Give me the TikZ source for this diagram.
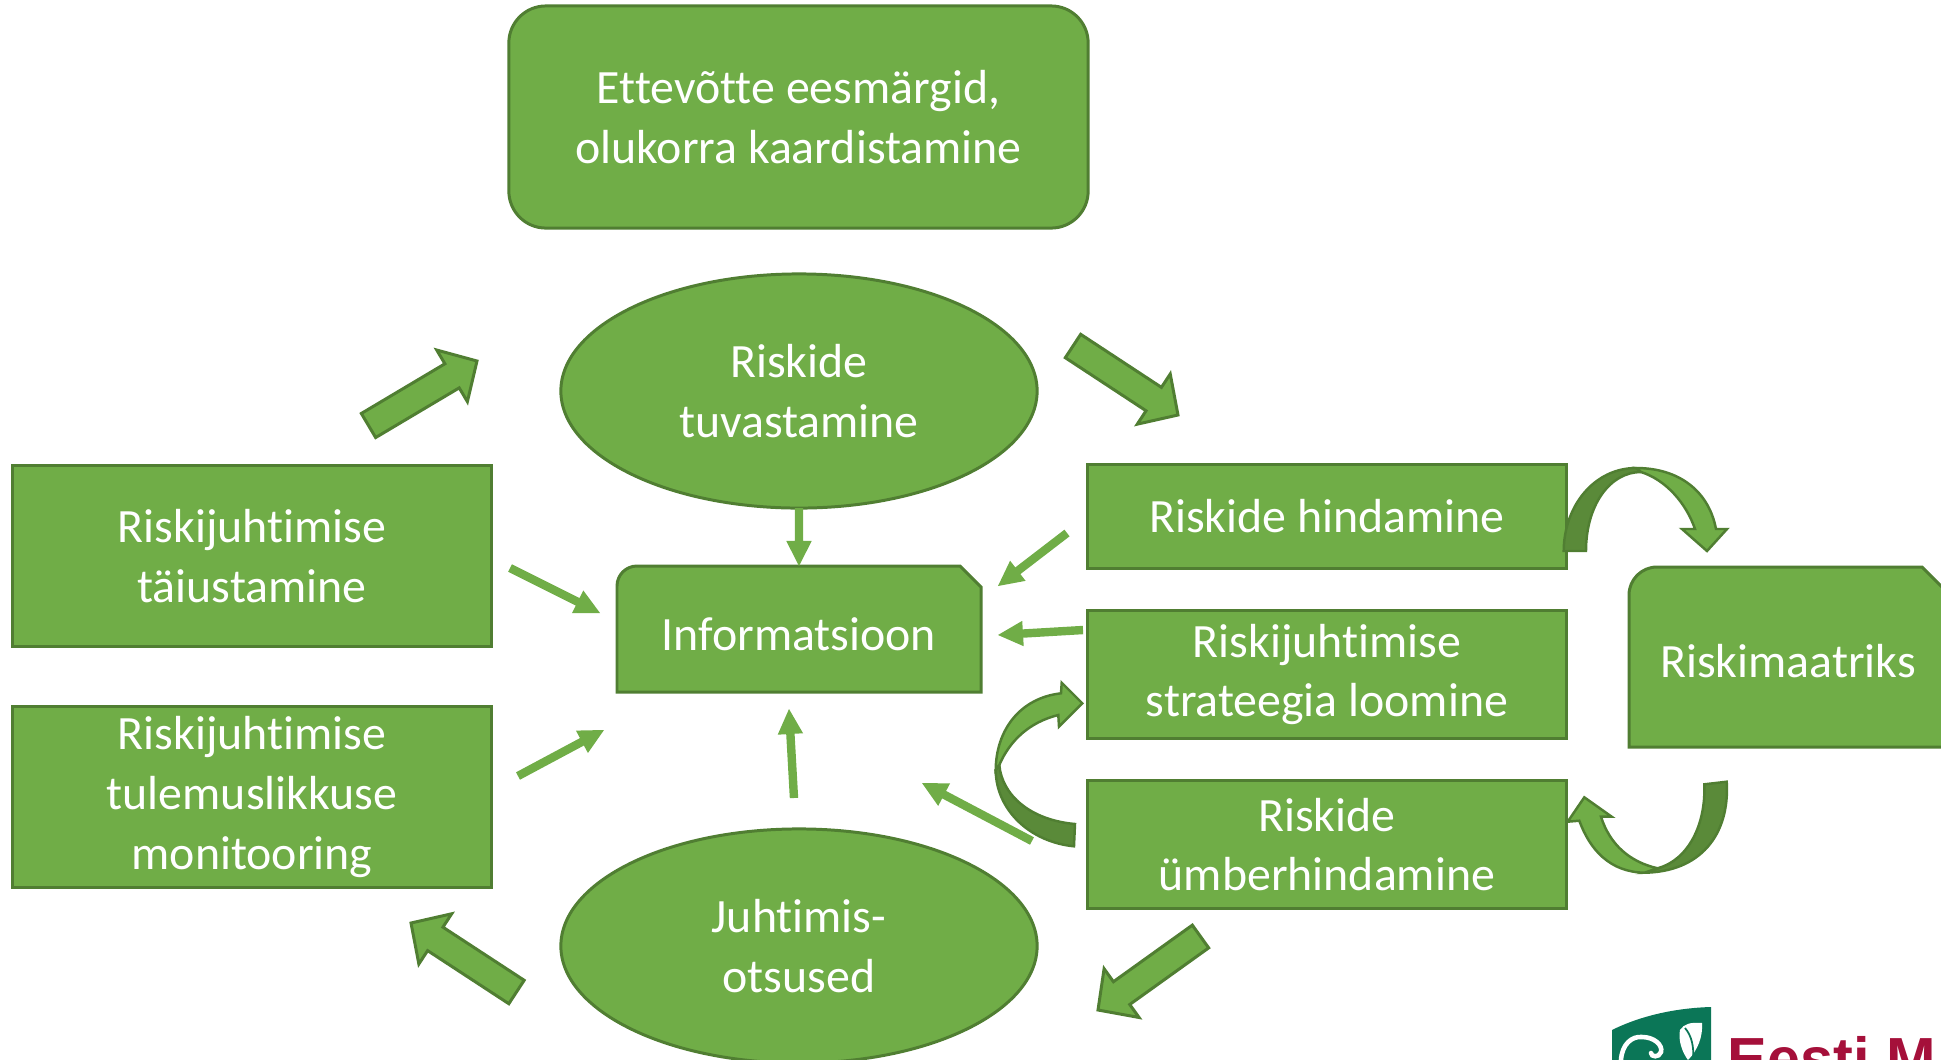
\documentclass[tikz,border=0pt]{standalone}
\usepackage{fontspec}
\setmainfont{Carlito}[Ligatures=CommonOff]
\usetikzlibrary{calc,shapes.geometric}

\definecolor{boxgreen}{HTML}{70AD47}
\definecolor{edgegreen}{HTML}{507E32}
\definecolor{foldgreen}{HTML}{5A8A39}
\definecolor{logogreen}{HTML}{0B7657}
\definecolor{logored}{HTML}{A5103A}

\tikzset{
  shapeline/.style={draw=edgegreen, line width=0.85pt, fill=boxgreen},
  boxtext/.style={text=white, align=center, inner sep=0pt, font=\fontsize{13.6}{17}\selectfont},
  procbox/.style={shapeline, boxtext, rectangle, minimum width=4.78cm},
  ovalbox/.style={shapeline, boxtext, ellipse, minimum width=4.76cm, minimum height=2.34cm},
  fatarrow/.style={shapeline, line join=miter},
  slimarrow/.style={fill=boxgreen},
  foldband/.style={draw=edgegreen, line width=0.7pt, fill=foldgreen},
  topband/.style={draw=edgegreen, line width=0.7pt, fill=boxgreen, line join=miter}
}

% tail, tip, half shaft, half head, head length, style
\newcommand{\flowarrow}[6]{
  \coordinate (neck) at ($(#2)!#5!(#1)$);
  \path[#6] ($(#1)!#3!90:(#2)$) -- ($(neck)!#3!90:(#2)$) -- ($(neck)!#4!90:(#2)$) -- (#2)
    -- ($(neck)!#4!-90:(#2)$) -- ($(neck)!#3!-90:(#2)$) -- ($(#1)!#3!-90:(#2)$) -- cycle;
}
\newcommand{\fatflow}[2]{\flowarrow{#1}{#2}{0.14cm}{0.30cm}{0.29cm}{fatarrow}}
\newcommand{\slimflow}[2]{\flowarrow{#1}{#2}{0.042cm}{0.127cm}{0.25cm}{slimarrow}}

\begin{document}
\begin{tikzpicture}[x=0.01cm,y=-0.01cm]
  \clip (0,0) rectangle (1941,1060);

  % Boxes
  \node[procbox, rounded corners=0.37cm, minimum width=5.79cm, minimum height=2.22cm] (goals) at (798.5,117) {Ettevõtte eesmärgid,\\olukorra kaardistamine};
  \node[ovalbox] (identify) at (799,391) {Riskide\\tuvastamine};
  \node[ovalbox] (decide) at (799,946) {Juhtimis-\\otsused};
  \node[procbox, minimum height=1.81cm] (improve) at (252,556) {Riskijuhtimise\\täiustamine};
  \node[procbox, minimum height=1.81cm] (monitor) at (252,797) {Riskijuhtimise\\tulemuslikkuse\\monitooring};
  \node[procbox, minimum height=1.03cm] (assess) at (1327,516.5) {Riskide hindamine};
  \node[procbox, minimum height=1.27cm] (strategy) at (1327,674.5) {Riskijuhtimise\\strateegia loomine};
  \node[procbox, minimum height=1.27cm] (reassess) at (1327,844.5) {Riskide\\ümberhindamine};

  % Snipped boxes
  \draw[shapeline] (617,692) -- (617,586) arc (180:270:20) -- (960,566) -- (981,587) -- (981,692) -- cycle;
  \node[boxtext] (info) at (799,634) {Informatsioon};
  \draw[shapeline] (1629,747) -- (1629,595) arc (180:270:28) -- (1922,567) -- (1952,597) -- (1952,747) -- cycle;
  \node[boxtext] (matrix) at (1788,661) {Riskimaatriks};

  % Big arrows around the loop
  \coordinate (improveout) at (368.5,425.5);
  \coordinate (identifyin) at (477,361);
  \coordinate (identifyout) at (1073,346);
  \coordinate (assessin) at (1178,415);
  \coordinate (reassessout) at (1200.5,936.5);
  \coordinate (decidein) at (1098,1010);
  \coordinate (decideout) at (516.5,992);
  \coordinate (monitorin) at (411,923);
  \fatflow{improveout}{identifyin}
  \fatflow{identifyout}{assessin}
  \fatflow{reassessout}{decidein}
  \fatflow{decideout}{monitorin}

  % Arrows into the information box
  \coordinate (a1) at (510,568);   \coordinate (b1) at (600,613);
  \coordinate (a2) at (518,776);   \coordinate (b2) at (604,730);
  \coordinate (a3) at (794,798);   \coordinate (b3) at (789,709);
  \coordinate (a4) at (799,508);   \coordinate (b4) at (799,566);
  \coordinate (a5) at (1067,533);  \coordinate (b5) at (998,586);
  \coordinate (a6) at (1083,630);  \coordinate (b6) at (998,635);
  \coordinate (a7) at (1032,841);  \coordinate (b7) at (922,783);
  \foreach \n in {1,...,7}
    \slimflow{a\n}{b\n};

  % Curved arrow to the matrix
  \coordinate (m1) at (1641,472);
  \coordinate (m1tip) at (1707,551);
  \draw[foldband] (1563.7,551) .. controls (1564,505) and (1595,468) .. (1636,468) -- (m1)
    .. controls (1610,472) and (1586,505) .. (1586,551) -- cycle;
  \draw[topband] (m1) .. controls (1666,480) and (1686,503) .. (1695,529) -- (1682,529) -- (m1tip)
    -- (1727,529) -- (1716,529) .. controls (1709,492) and (1680,468) .. (1636,468) -- cycle;

  % Curved arrow from the matrix
  \coordinate (m2) at (1657.7,868.3);
  \coordinate (m2tip) at (1584.3,797.3);
  \draw[foldband] (1704.3,784.3) .. controls (1706,825) and (1688,860) .. (m2) -- (1644.3,872.7)
    .. controls (1700,872) and (1730,835) .. (1726.7,781.7) -- cycle;
  \draw[topband] (m2) .. controls (1630,862) and (1610,845) .. (1601,816.7) -- (1611.7,816.7) -- (m2tip)
    -- (1567.7,821.7) -- (1579.3,820.7) .. controls (1590,850) and (1610,872) .. (1644.3,872.7) -- cycle;

  % Curved arrow to the strategy
  \coordinate (s1) at (999.3,765);
  \coordinate (s1tip) at (1082.3,703.3);
  \draw[foldband] (1074,846.3) .. controls (1030,842) and (996,810) .. (995.7,770) -- (s1)
    .. controls (1002,795) and (1030,820) .. (1075,824) -- cycle;
  \draw[topband] (s1) .. controls (1010,740) and (1030,722) .. (1058.3,715) -- (1059,726.7) -- (s1tip)
    -- (1061.7,682.7) -- (1061,693.3) .. controls (1020,698) and (996,730) .. (995.7,770) -- cycle;

  % Logo
  \fill[logogreen] (1612,1030) .. controls (1640,1016) and (1675,1008) .. (1711,1007) -- (1711,1070) -- (1612,1070) -- cycle;
  \draw[white, line width=1.3pt, line cap=round] (1621,1060) .. controls (1622,1044) and (1632,1036) .. (1642,1037)
    .. controls (1654,1037) and (1663,1045) .. (1661,1052) .. controls (1659,1058) and (1651,1057) .. (1651,1053);
  \fill[white] (1702,1023) .. controls (1690,1022) and (1684,1024) .. (1680,1030) .. controls (1678,1040) and (1682,1052) .. (1688,1060)
    .. controls (1698,1050) and (1703,1036) .. (1702,1023) -- cycle;
  \draw[logogreen, line width=0.5pt] (1685,1028) .. controls (1692,1036) and (1694,1048) .. (1693,1058);
  \node[anchor=base west, inner sep=0pt, text=logored, font=\fontsize{16.9}{20}\selectfont\fontspec{Liberation Sans}\bfseries] (logotext) at (1727,1079) {Eesti M};
\end{tikzpicture}
\end{document}
